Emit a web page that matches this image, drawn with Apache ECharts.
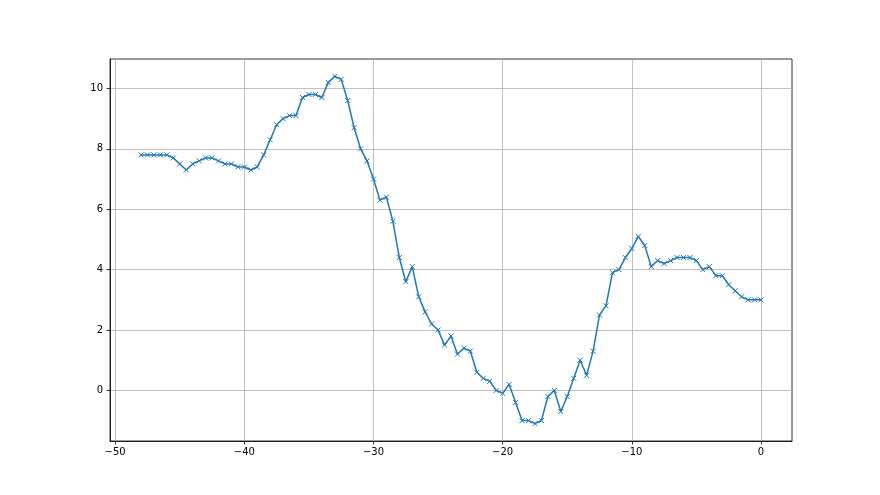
<!DOCTYPE html>
<html>
<head>
<meta charset="utf-8">
<script src="https://cdn.jsdelivr.net/npm/echarts@6/dist/echarts.min.js"></script>
<style>html,body{margin:0;padding:0;background:#fff;}#c{width:880px;height:495px;}</style>
</head>
<body>
<div id="c"></div>
<script>
const xValues = [-48,-47.5,-47,-46.5,-46,-45.5,-45,-44.5,-44,-43.5,-43,-42.5,-42,-41.5,-41,-40.5,-40,-39.5,-39,-38.5,-38,-37.5,-37,-36.5,-36,-35.5,-35,-34.5,-34,-33.5,-33,-32.5,-32,-31.5,-31,-30.5,-30,-29.5,-29,-28.5,-28,-27.5,-27,-26.5,-26,-25.5,-25,-24.5,-24,-23.5,-23,-22.5,-22,-21.5,-21,-20.5,-20,-19.5,-19,-18.5,-18,-17.5,-17,-16.5,-16,-15.5,-15,-14.5,-14,-13.5,-13,-12.5,-12,-11.5,-11,-10.5,-10,-9.5,-9,-8.5,-8,-7.5,-7,-6.5,-6,-5.5,-5,-4.5,-4,-3.5,-3,-2.5,-2,-1.5,-1,-0.5,0];
const yValues = [7.8,7.8,7.8,7.8,7.8,7.7,7.5,7.3,7.5,7.6,7.7,7.7,7.6,7.5,7.5,7.4,7.4,7.3,7.4,7.8,8.3,8.8,9.0,9.1,9.1,9.7,9.8,9.8,9.7,10.2,10.4,10.3,9.6,8.7,8.0,7.6,7.0,6.3,6.4,5.6,4.4,3.6,4.1,3.1,2.6,2.2,2.0,1.5,1.8,1.2,1.4,1.3,0.6,0.4,0.3,0.0,-0.1,0.2,-0.4,-1.0,-1.0,-1.1,-1.0,-0.2,0.0,-0.7,-0.2,0.4,1.0,0.5,1.3,2.5,2.8,3.9,4.0,4.4,4.7,5.1,4.8,4.1,4.3,4.2,4.3,4.4,4.4,4.4,4.3,4.0,4.1,3.8,3.8,3.5,3.3,3.1,3.0,3.0,3.0];
const xTicks = [-50,-40,-30,-20,-10,0];
const yTicks = [0,2,4,6,8,10];

const fmt = v => String(v).replace('-', '\u2212');
const chart = echarts.init(document.getElementById('c'), null, {renderer: 'canvas'});
chart.setOption({
  animation: false,
  backgroundColor: '#fff',
  grid: {left: 110, right: 88, top: 59, bottom: 54, show: true, borderColor: '#000', borderWidth: 0.8, backgroundColor: 'transparent'},
  xAxis: {
    type: 'value', min: -50.4, max: 2.4,
    axisLine: {show: true, onZero: false, lineStyle: {color: '#000', width: 0.8}},
    axisTick: {show: true, length: 3.5, lineStyle: {color: '#000', width: 0.8}, customValues: xTicks},
    axisLabel: {customValues: xTicks, formatter: fmt, color: '#000', fontFamily: 'DejaVu Sans', fontSize: 10, margin: 6},
    splitLine: {show: true, lineStyle: {color: '#b0b0b0', width: 0.8}}
  },
  yAxis: {
    type: 'value', min: -1.675, max: 10.975,
    axisLine: {show: true, onZero: false, lineStyle: {color: '#000', width: 0.8}},
    axisTick: {show: true, length: 3.5, lineStyle: {color: '#000', width: 0.8}, customValues: yTicks},
    axisLabel: {customValues: yTicks, formatter: fmt, color: '#000', fontFamily: 'DejaVu Sans', fontSize: 10, margin: 7},
    splitLine: {show: true, lineStyle: {color: '#b0b0b0', width: 0.8}}
  },
  series: [{
    type: 'line',
    data: xValues.map((x, i) => [x, yValues[i]]),
    lineStyle: {color: '#1f77b4', width: 1.5},
    symbol: 'path://M0,0L10,10M10,0L0,10',
    symbolSize: 5,
    showAllSymbol: true,
    itemStyle: {color: 'none', borderColor: '#1f77b4', borderWidth: 1},
    emphasis: {disabled: true}
  }]
});
</script>
</body>
</html>
